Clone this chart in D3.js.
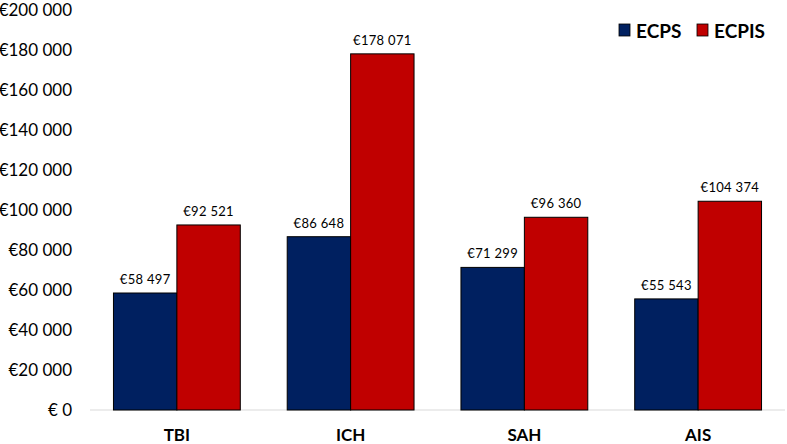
<!DOCTYPE html>
<html><head><meta charset="utf-8">
<script src="https://cdn.jsdelivr.net/npm/d3@7"></script>
<style>body{margin:0;background:#fff}svg{display:block}</style>
</head><body>
<svg id="c" width="787" height="444"></svg>
<script>
const categories = ["TBI", "ICH", "SAH", "AIS"];
const seriesNames = ["ECPS", "ECPIS"];
const ecps = [58497, 86648, 71299, 55543];
const ecpis = [92521, 178071, 96360, 104374];
const yTicks = [0, 20000, 40000, 60000, 80000, 100000, 120000, 140000, 160000, 180000, 200000];
const colors = ["#002060", "#C00000"];

const svg = d3.select("#c");
const font = "Lato, 'Open Sans', sans-serif";
const x = d3.scaleBand().domain(categories).range([90, 785]).paddingInner(0).paddingOuter(0);
const x1 = d3.scaleBand().domain(seriesNames).range([0, x.bandwidth()]).paddingInner(0).paddingOuter(0.37);
const y = d3.scaleLinear().domain([0, 200000]).range([410, 10]);

const fmt = v => v === 0 ? "€ 0" : "€" + d3.format(",")(v).replace(/,/g, " ");

// y labels
const yAxis = d3.axisLeft(y).tickValues(yTicks).tickSize(0).tickPadding(0).tickFormat(fmt);
const ga = svg.append("g").attr("transform", "translate(72,0)").call(yAxis);
ga.select(".domain").remove();
ga.selectAll("text").attr("font-family", font).attr("font-size", 17).attr("fill", "#000");

// baseline
svg.append("line").attr("x1", 90).attr("x2", 785).attr("y1", y(0)).attr("y2", y(0))
  .attr("stroke", "#d9d9d9").attr("stroke-width", 1);

const data = categories.map((c, i) => ({cat: c, vals: [ecps[i], ecpis[i]]}));
const g = svg.selectAll(".grp").data(data).join("g").attr("transform", d => `translate(${x(d.cat)},0)`);
g.selectAll("rect").data(d => d.vals.map((v, j) => ({v, s: seriesNames[j], j})))
  .join("rect")
  .attr("x", d => x1(d.s)).attr("width", x1.bandwidth())
  .attr("y", d => y(d.v)).attr("height", d => y(0) - y(d.v))
  .attr("fill", d => colors[d.j]).attr("stroke", "#000").attr("stroke-width", 1);
g.selectAll("text.v").data(d => d.vals.map((v, j) => ({v, s: seriesNames[j]})))
  .join("text").attr("class", "v")
  .attr("x", d => x1(d.s) + x1.bandwidth() / 2).attr("y", d => y(d.v) - 9)
  .attr("text-anchor", "middle").attr("font-family", font).attr("font-size", 13)
  .attr("letter-spacing", 0.3)
  .text(d => fmt(d.v));

// x labels
const xAxis = d3.axisBottom(x).tickSize(0).tickPadding(0);
const gx = svg.append("g").call(xAxis);
gx.select(".domain").remove();
gx.selectAll("text").attr("y", 441).attr("dy", 0).attr("font-family", font).attr("font-size", 17).attr("font-weight", "bold").attr("fill", "#000");

// legend
const legX = [619, 697];
seriesNames.forEach((s, i) => {
  svg.append("rect").attr("x", legX[i]).attr("y", 24).attr("width", 11).attr("height", 12)
    .attr("fill", colors[i]).attr("stroke", "#000").attr("stroke-width", 0.8);
  svg.append("text").attr("x", legX[i] + 17).attr("y", 38).attr("font-family", font)
    .attr("font-size", 19).attr("font-weight", "bold").text(s);
});
</script>
</body></html>
